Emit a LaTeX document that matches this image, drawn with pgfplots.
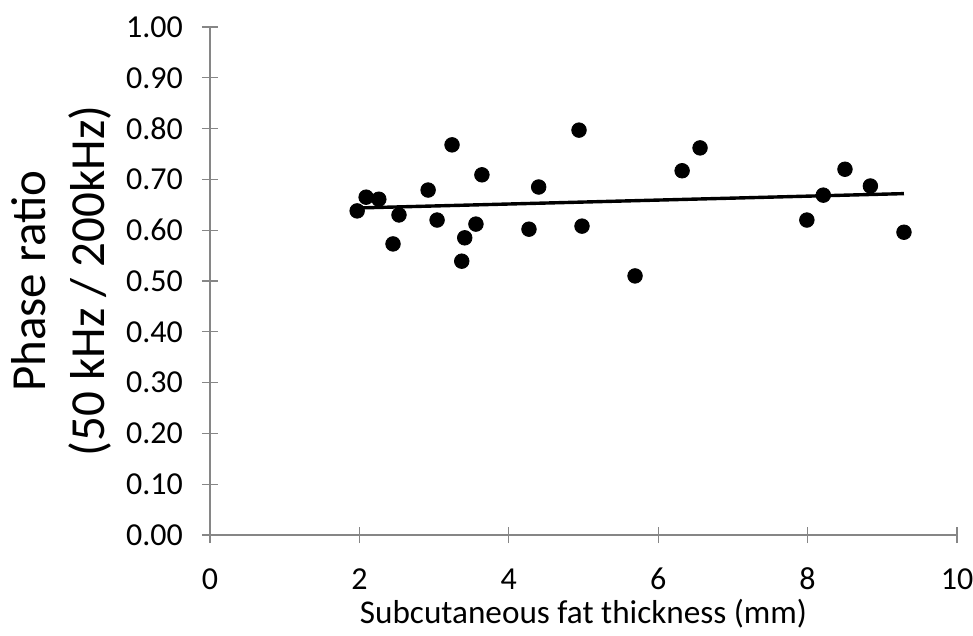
\documentclass[border=0pt]{standalone}
\usepackage{pgfplots}
\pgfplotsset{compat=1.18}
\usepackage{fontspec}
\setmainfont{Carlito}
\definecolor{axgray}{RGB}{134,134,134}
\begin{document}
\begin{tikzpicture}
\useasboundingbox (-105pt,-50.5pt) rectangle (381.5pt,267.5pt);
\begin{axis}[
  at={(0,0)}, anchor=south west,
  scale only axis,
  width=373.5pt, height=254pt,
  xmin=0, xmax=10, ymin=0, ymax=1,
  xtick={0,2,4,6,8,10},
  ytick={0,0.1,0.2,0.3,0.4,0.5,0.6,0.7,0.8,0.9,1.0},
  axis lines*=left,
  axis line style={axgray, line width=0.75pt},
  tick style={axgray, line width=0.6pt},
  tick align=center,
  major tick length=8pt,
  /pgf/number format/assume math mode=true,
  ticklabel style={font=\fontsize{16}{19}\selectfont, text=black},
  yticklabel style={/pgf/number format/fixed, /pgf/number format/fixed zerofill, /pgf/number format/precision=2},
  every x tick label/.append style={anchor=center, yshift=-18pt},
  every y tick label/.append style={anchor=east, xshift=-6pt},
  xlabel={Subcutaneous fat thickness (mm)},
  ylabel={Phase ratio\\(50 kHz / 200kHz)},
  every axis x label/.style={at={(rel axis cs:0.5,0)}, anchor=center, yshift=-39.5pt, font=\fontsize{16.6}{19}\selectfont},
  every axis y label/.style={at={(rel axis cs:0,0.5)}, xshift=-74.25pt, anchor=center, rotate=90, align=center, font=\fontsize{24.5}{29.5}\selectfont},
  clip=false,
]
\addplot[only marks, mark=*, mark size=3.65pt, mark options={fill=black, draw=black}] coordinates {
(1.97,0.638) (2.09,0.665) (2.26,0.661) (2.45,0.573) (2.53,0.630)
(2.92,0.679) (3.04,0.620) (3.24,0.768) (3.37,0.539) (3.41,0.585)
(3.56,0.612) (3.64,0.709) (4.27,0.602) (4.40,0.685) (4.94,0.797)
(4.98,0.608) (5.69,0.510) (6.32,0.717) (6.56,0.762) (7.99,0.620)
(8.21,0.669) (8.50,0.720) (8.84,0.687) (9.29,0.596)
};
\addplot[black, line width=1.7pt] coordinates {(1.97,0.6437) (9.29,0.6720)};
\end{axis}
\end{tikzpicture}
\end{document}
